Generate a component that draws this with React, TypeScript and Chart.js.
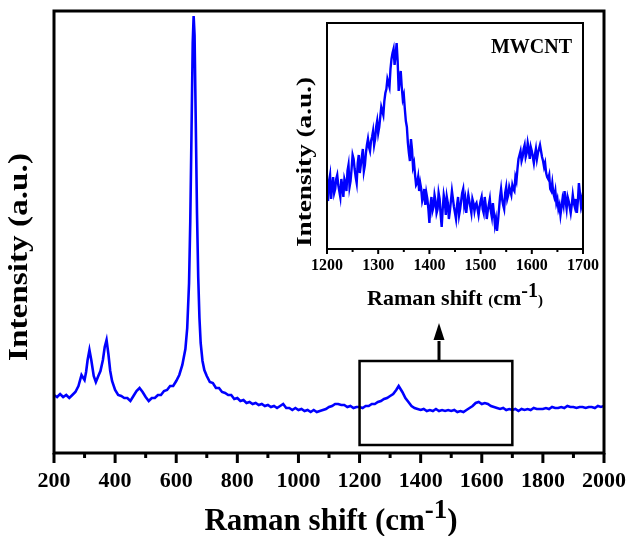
import React, { useEffect, useRef } from "react";
import { Chart, registerables } from "chart.js";

Chart.register(...registerables);

const FONT = '"Liberation Serif", "Times New Roman", Times, serif';
const BLUE = "#0000ff";

// ---------- Main spectrum (Raman shift, intensity in arbitrary units) ----------
const mainShift = [
  200, 210, 220, 230, 240, 250, 260, 270, 280, 290,
  300, 305, 310, 316, 322, 330, 337, 345, 352, 360,
  366, 372, 378, 384, 390, 400, 410, 420, 430, 440,
  450, 460, 470, 480, 490, 500, 510, 520, 530, 540,
  550, 560, 570, 580, 590, 600, 610, 620, 630, 636,
  642, 646, 650, 654, 657, 660, 664, 668, 672, 676,
  680, 686, 692, 700, 710, 720, 730, 740, 750, 760,
  770, 780, 790, 800, 810, 820, 830, 840, 850, 860,
  870, 880, 890, 900, 910, 920, 930, 940, 950, 960,
  970, 980, 990, 1000, 1010, 1020, 1030, 1040, 1050, 1060,
  1070, 1080, 1090, 1100, 1110, 1120, 1130, 1140, 1150, 1160,
  1170, 1180, 1190, 1200, 1210, 1220, 1230, 1240, 1250, 1260,
  1270, 1280, 1290, 1300, 1310, 1320, 1328, 1334, 1340, 1350,
  1360, 1370, 1380, 1390, 1400, 1410, 1420, 1430, 1440, 1450,
  1460, 1470, 1480, 1490, 1500, 1510, 1520, 1530, 1540, 1550,
  1560, 1570, 1580, 1590, 1600, 1610, 1620, 1630, 1640, 1650,
  1660, 1670, 1680, 1690, 1700, 1710, 1720, 1730, 1740, 1750,
  1760, 1770, 1780, 1790, 1800, 1810, 1820, 1830, 1840, 1850,
  1860, 1870, 1880, 1890, 1900, 1910, 1920, 1930, 1940, 1950,
  1960, 1970, 1980, 1990, 2000,
];
const mainIntensity = [
  58, 56, 59, 56, 58, 55, 58, 61, 67, 78,
  73, 81, 93, 103, 93, 77, 71, 77, 82, 93,
  106, 113, 99, 82, 72, 63, 58, 57, 55, 55,
  52, 57, 62, 65, 61, 56, 52, 55, 55, 58,
  58, 62, 63, 67, 67, 72, 78, 88, 104, 125,
  170, 232, 320, 410, 437, 418, 330, 240, 176, 135,
  110, 92, 83, 77, 71, 70, 65, 65, 61, 60,
  58, 58, 54, 55, 52, 53, 50, 51, 49, 50,
  48, 49, 47, 48, 46, 47, 45, 47, 49, 45,
  45, 43, 45, 43, 44, 42, 43, 41, 43, 41,
  42, 43, 44, 46, 47, 49, 49, 48, 48, 46,
  47, 45, 46, 46, 45, 47, 47, 49, 49, 51,
  52, 54, 55, 57, 59, 63, 67, 64, 61, 55,
  51, 47, 45, 44, 43, 44, 42, 43, 42, 44,
  42, 43, 42, 43, 42, 43, 41, 42, 41, 43,
  45, 47, 50, 51, 49, 50, 49, 47, 46, 45,
  44, 45, 43, 44, 43, 44, 42, 44, 43, 44,
  43, 45, 44, 44, 44, 45, 44, 46, 45, 45,
  46, 45, 47, 46, 46, 45, 46, 46, 45, 46,
  46, 45, 47, 46, 47,
];
const mainMajorTicks = [200, 400, 600, 800, 1000, 1200, 1400, 1600, 1800, 2000];
const mainMinorTicks = [300, 500, 700, 900, 1100, 1300, 1500, 1700, 1900];
const mainYMax = 442;

// zoom box on main chart + arrow (data units)
const zoomBoxShift = [1200, 1700];
const zoomBoxIntensity = [8, 92];
const arrowShift = 1460;
const arrowHeadIntensity = [113, 130];

// ---------- Inset (MWCNT D and G bands) ----------
const insetShift = [
  1200, 1202, 1204, 1206, 1208, 1210, 1212, 1214, 1216, 1218, 1220, 1222, 1224, 1226, 1228, 1230, 1232, 1234, 1236, 1238,
  1240, 1242, 1244, 1246, 1248, 1250, 1252, 1254, 1256, 1258, 1260, 1262, 1264, 1266, 1268, 1270, 1272, 1274, 1276, 1278,
  1280, 1282, 1284, 1286, 1288, 1290, 1292, 1294, 1296, 1298, 1300, 1302, 1304, 1306, 1308, 1310, 1312, 1314, 1316, 1318,
  1320, 1322, 1324, 1326, 1328, 1330, 1332, 1334, 1336, 1338, 1340, 1342, 1344, 1346, 1348, 1350, 1352, 1354, 1356, 1358,
  1360, 1362, 1364, 1366, 1368, 1370, 1372, 1374, 1376, 1378, 1380, 1382, 1384, 1386, 1388, 1390, 1392, 1394, 1396, 1398,
  1400, 1402, 1404, 1406, 1408, 1410, 1412, 1414, 1416, 1418, 1420, 1422, 1424, 1426, 1428, 1430, 1432, 1434, 1436, 1438,
  1440, 1442, 1444, 1446, 1448, 1450, 1452, 1454, 1456, 1458, 1460, 1462, 1464, 1466, 1468, 1470, 1472, 1474, 1476, 1478,
  1480, 1482, 1484, 1486, 1488, 1490, 1492, 1494, 1496, 1498, 1500, 1502, 1504, 1506, 1508, 1510, 1512, 1514, 1516, 1518,
  1520, 1522, 1524, 1526, 1528, 1530, 1532, 1534, 1536, 1538, 1540, 1542, 1544, 1546, 1548, 1550, 1552, 1554, 1556, 1558,
  1560, 1562, 1564, 1566, 1568, 1570, 1572, 1574, 1576, 1578, 1580, 1582, 1584, 1586, 1588, 1590, 1592, 1594, 1596, 1598,
  1600, 1602, 1604, 1606, 1608, 1610, 1612, 1614, 1616, 1618, 1620, 1622, 1624, 1626, 1628, 1630, 1632, 1634, 1636, 1638,
  1640, 1642, 1644, 1646, 1648, 1650, 1652, 1654, 1656, 1658, 1660, 1662, 1664, 1666, 1668, 1670, 1672, 1674, 1676, 1678,
  1680, 1682, 1684, 1686, 1688, 1690, 1692, 1694, 1696, 1698, 1700,
];
const insetIntensity = [
  55, 48, 68, 74, 50, 62, 72, 56, 60, 70, 74, 64, 58, 52, 70, 62, 52, 70, 66, 58,
  78, 84, 62, 68, 80, 94, 90, 80, 72, 66, 86, 94, 76, 84, 92, 100, 78, 84, 96, 104,
  110, 102, 98, 108, 112, 118, 104, 110, 122, 128, 116, 122, 132, 142, 138, 134, 148, 156, 160, 170,
  166, 162, 180, 190, 196, 200, 184, 194, 206, 188, 158, 170, 178, 162, 150, 154, 140, 128, 122, 106,
  96, 88, 110, 100, 82, 86, 74, 64, 66, 72, 58, 66, 60, 48, 52, 60, 44, 56, 50, 40,
  26, 44, 52, 38, 42, 54, 48, 36, 40, 56, 50, 34, 22, 40, 54, 48, 34, 52, 46, 30,
  38, 48, 58, 50, 42, 36, 30, 44, 52, 34, 40, 48, 56, 60, 44, 50, 36, 46, 54, 48,
  42, 36, 50, 46, 38, 44, 46, 40, 34, 42, 48, 52, 40, 36, 52, 44, 30, 38, 44, 50,
  38, 32, 46, 36, 24, 30, 18, 28, 40, 52, 60, 50, 44, 40, 56, 62, 50, 54, 62, 58,
  54, 64, 60, 58, 72, 68, 80, 90, 94, 98, 88, 92, 100, 104, 92, 96, 106, 100, 90, 102,
  98, 92, 86, 94, 100, 90, 96, 100, 104, 98, 92, 88, 82, 86, 76, 72, 70, 74, 60, 58,
  66, 56, 52, 58, 46, 50, 40, 44, 34, 42, 50, 44, 58, 48, 40, 52, 48, 42, 36, 44,
  54, 46, 42, 50, 36, 48, 66, 56, 44, 50, 36,
];
const insetMajorTicks = [1200, 1300, 1400, 1500, 1600, 1700];
const insetMinorTicks = [1250, 1350, 1450, 1550, 1650];
const insetYMax = 226;
const insetLabel = "MWCNT";

type Part = { t: string; size: number; dy?: number };

function drawParts(ctx: CanvasRenderingContext2D, parts: Part[], cx: number, baseline: number) {
  let total = 0;
  for (const p of parts) {
    ctx.font = `bold ${p.size}px ${FONT}`;
    total += ctx.measureText(p.t).width;
  }
  let x = cx - total / 2;
  ctx.textAlign = "left";
  ctx.textBaseline = "alphabetic";
  for (const p of parts) {
    ctx.font = `bold ${p.size}px ${FONT}`;
    ctx.fillText(p.t, x, baseline + (p.dy || 0));
    x += ctx.measureText(p.t).width;
  }
}

function drawVertical(ctx: CanvasRenderingContext2D, text: string, cx: number, cy: number, size: number, length: number) {
  ctx.save();
  ctx.translate(cx, cy);
  ctx.rotate(-Math.PI / 2);
  ctx.font = `bold ${size}px ${FONT}`;
  const w = ctx.measureText(text).width;
  ctx.scale(length / w, 1);
  ctx.textAlign = "center";
  ctx.textBaseline = "middle";
  ctx.fillText(text, 0, 0);
  ctx.restore();
}

const mainPlugin = {
  id: "mainDecor",
  afterDraw(chart: any) {
    const ctx: CanvasRenderingContext2D = chart.ctx;
    const { left, right, top, bottom } = chart.chartArea;
    const xs = chart.scales.x;
    const ys = chart.scales.y;
    ctx.save();
    ctx.strokeStyle = "#000";
    ctx.fillStyle = "#000";
    ctx.lineWidth = 3;
    ctx.strokeRect(left, top, right - left, bottom - top);
    ctx.lineCap = "butt";
    for (const v of mainMajorTicks) {
      const x = xs.getPixelForValue(v);
      ctx.beginPath();
      ctx.moveTo(x, bottom);
      ctx.lineTo(x, bottom + 10);
      ctx.stroke();
    }
    for (const v of mainMinorTicks) {
      const x = xs.getPixelForValue(v);
      ctx.beginPath();
      ctx.moveTo(x, bottom);
      ctx.lineTo(x, bottom + 5);
      ctx.stroke();
    }
    ctx.font = `bold 22px ${FONT}`;
    ctx.textAlign = "center";
    ctx.textBaseline = "middle";
    for (const v of mainMajorTicks) {
      ctx.fillText(String(v), xs.getPixelForValue(v), bottom + 28);
    }
    drawParts(
      ctx,
      [
        { t: "Raman shift (cm", size: 31 },
        { t: "-1", size: 27, dy: -12 },
        { t: ")", size: 31 },
      ],
      (left + right) / 2 + 2,
      530
    );
    drawVertical(ctx, "Intensity (a.u.)", 20, 257, 28, 208);

    // zoom box
    const bx0 = xs.getPixelForValue(zoomBoxShift[0]);
    const bx1 = xs.getPixelForValue(zoomBoxShift[1]);
    const by0 = ys.getPixelForValue(zoomBoxIntensity[1]);
    const by1 = ys.getPixelForValue(zoomBoxIntensity[0]);
    ctx.lineWidth = 2.5;
    ctx.strokeRect(bx0, by0, bx1 - bx0, by1 - by0);
    // arrow
    const ax = xs.getPixelForValue(arrowShift);
    const hb = ys.getPixelForValue(arrowHeadIntensity[0]);
    const ht = ys.getPixelForValue(arrowHeadIntensity[1]);
    ctx.lineWidth = 3;
    ctx.beginPath();
    ctx.moveTo(ax, by0);
    ctx.lineTo(ax, hb + 1);
    ctx.stroke();
    ctx.beginPath();
    ctx.moveTo(ax - 5.5, hb);
    ctx.lineTo(ax + 5.5, hb);
    ctx.lineTo(ax, ht);
    ctx.closePath();
    ctx.fill();
    ctx.restore();
  },
};

const insetPlugin = {
  id: "insetDecor",
  afterDraw(chart: any) {
    const ctx: CanvasRenderingContext2D = chart.ctx;
    const { left, right, top, bottom } = chart.chartArea;
    const xs = chart.scales.x;
    ctx.save();
    ctx.strokeStyle = "#000";
    ctx.fillStyle = "#000";
    ctx.lineWidth = 2;
    ctx.strokeRect(left, top, right - left, bottom - top);
    for (const v of insetMajorTicks) {
      const x = xs.getPixelForValue(v);
      ctx.beginPath();
      ctx.moveTo(x, bottom);
      ctx.lineTo(x, bottom + 5);
      ctx.stroke();
    }
    for (const v of insetMinorTicks) {
      const x = xs.getPixelForValue(v);
      ctx.beginPath();
      ctx.moveTo(x, bottom);
      ctx.lineTo(x, bottom + 3);
      ctx.stroke();
    }
    ctx.font = `bold 16px ${FONT}`;
    ctx.textAlign = "center";
    ctx.textBaseline = "middle";
    for (const v of insetMajorTicks) {
      ctx.fillText(String(v), xs.getPixelForValue(v), bottom + 17);
    }
    drawParts(
      ctx,
      [
        { t: "Raman shift ", size: 22 },
        { t: "(", size: 15 },
        { t: "cm", size: 22 },
        { t: "-1", size: 20, dy: -8 },
        { t: ")", size: 15 },
      ],
      (left + right) / 2,
      bottom + 56
    );
    drawVertical(ctx, "Intensity (a.u.)", 20, 152, 22, 170);
    ctx.font = `bold 20px ${FONT}`;
    ctx.textAlign = "right";
    ctx.textBaseline = "middle";
    ctx.fillText(insetLabel, right - 11, top + 25);
    ctx.restore();
  },
};

export default function App() {
  const mainRef = useRef<HTMLCanvasElement>(null);
  const insetRef = useRef<HTMLCanvasElement>(null);

  useEffect(() => {
    const main = new Chart(mainRef.current as HTMLCanvasElement, {
      type: "line",
      data: {
        datasets: [
          {
            data: mainShift.map((x, i) => ({ x, y: mainIntensity[i] })),
            borderColor: BLUE,
            borderWidth: 2.6,
            pointRadius: 0,
            tension: 0,
            fill: false,
          },
        ],
      },
      options: {
        responsive: false,
        animation: false,
        devicePixelRatio: 1,
        layout: { padding: { left: 54, right: 27, top: 11, bottom: 0 } },
        plugins: { legend: { display: false }, tooltip: { enabled: false } },
        scales: {
          x: {
            type: "linear",
            min: 200,
            max: 2000,
            ticks: { display: false },
            grid: { display: false },
            border: { display: false },
            afterFit: (s: any) => {
              s.height = 83;
            },
          },
          y: { display: false, min: 0, max: mainYMax },
        },
      } as any,
      plugins: [mainPlugin],
    });

    const inset = new Chart(insetRef.current as HTMLCanvasElement, {
      type: "line",
      data: {
        datasets: [
          {
            data: insetShift.map((x, i) => ({ x, y: insetIntensity[i] })),
            borderColor: BLUE,
            borderWidth: 2.4,
            pointRadius: 0,
            tension: 0,
            fill: false,
          },
        ],
      },
      options: {
        responsive: false,
        animation: false,
        devicePixelRatio: 1,
        layout: { padding: { left: 42, right: 22, top: 13, bottom: 0 } },
        plugins: { legend: { display: false }, tooltip: { enabled: false } },
        scales: {
          x: {
            type: "linear",
            min: 1200,
            max: 1700,
            ticks: { display: false },
            grid: { display: false },
            border: { display: false },
            afterFit: (s: any) => {
              s.height = 71;
            },
          },
          y: { display: false, min: 0, max: insetYMax },
        },
      } as any,
      plugins: [insetPlugin],
    });

    return () => {
      main.destroy();
      inset.destroy();
    };
  }, []);

  return (
    <div style={{ position: "fixed", left: 0, top: 0, width: 631, height: 536, background: "#fff" }}>
      <canvas ref={mainRef} width={631} height={536} style={{ position: "absolute", left: 0, top: 0 }} />
      <canvas ref={insetRef} width={320} height={310} style={{ position: "absolute", left: 285, top: 10 }} />
    </div>
  );
}
